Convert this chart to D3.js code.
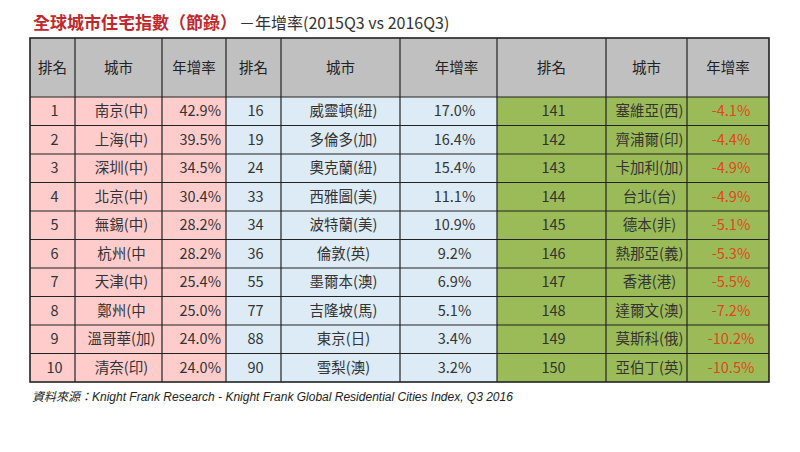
<!DOCTYPE html>
<html><head><meta charset="utf-8">
<script src="https://cdn.jsdelivr.net/npm/d3@7"></script>
<style>
html,body{margin:0;padding:0;background:#fff;}
svg{display:block;}
</style></head>
<body>
<svg id="chart" width="800" height="452"></svg>
<script>
// ---- data ----
const headers = ["排名","城市","年增率","排名","城市","年增率","排名","城市","年增率"];
const topRanks = [1,2,3,4,5,6,7,8,9,10];
const topCities = ["南京(中)","上海(中)","深圳(中)","北京(中)","無錫(中)","杭州(中","天津(中)","鄭州(中","溫哥華(加)","清奈(印)"];
const topRates = [42.9,39.5,34.5,30.4,28.2,28.2,25.4,25.0,24.0,24.0];
const midRanks = [16,19,24,33,34,36,55,77,88,90];
const midCities = ["威靈頓(紐)","多倫多(加)","奧克蘭(紐)","西雅圖(美)","波特蘭(美)","倫敦(英)","墨爾本(澳)","吉隆坡(馬)","東京(日)","雪梨(澳)"];
const midRates = [17.0,16.4,15.4,11.1,10.9,9.2,6.9,5.1,3.4,3.2];
const lowRanks = [141,142,143,144,145,146,147,148,149,150];
const lowCities = ["塞維亞(西)","齊浦爾(印)","卡加利(加)","台北(台)","德本(非)","熱那亞(義)","香港(港)","達爾文(澳)","莫斯科(俄)","亞伯丁(英)"];
const lowRates = [-4.1,-4.4,-4.9,-4.9,-5.1,-5.3,-5.5,-7.2,-10.2,-10.5];
const titleMain = "全球城市住宅指數（節錄）";
const titleSub = "－年增率(2015Q3 vs 2016Q3)";
const sourceText = "資料來源：Knight Frank Research - Knight Frank Global Residential Cities Index, Q3 2016";

// ---- layout ----
const svg = d3.select("#chart");
const colEdges = [30,75,162,226,281,400,497,606,687,769];
const headerTop = 38, headerBottom = 97, tableBottom = 382;
const groupFill = ["#ffcccc","#ddebf7","#9bbb59"];
const fontCJK = "'Noto Sans CJK TC','Noto Sans',sans-serif";
const fs = 14.5;

const y = d3.scaleBand().domain(d3.range(10)).range([headerBottom, tableBottom]).paddingInner(0);
const fmt = d3.formatLocale({decimal:".",thousands:",",grouping:[3],currency:["",""],minus:"-"}).format(".1f");

const groups = [
  {ranks: topRanks, cities: topCities, rates: topRates},
  {ranks: midRanks, cities: midCities, rates: midRates},
  {ranks: lowRanks, cities: lowCities, rates: lowRates}
];

// header
svg.append("rect").attr("x",colEdges[0]).attr("y",headerTop)
  .attr("width",colEdges[9]-colEdges[0]).attr("height",headerBottom-headerTop).attr("fill","#c0c0c0");
svg.selectAll("text.hdr").data(headers).join("text").attr("class","hdr")
  .attr("x",(d,i)=>(colEdges[i]+colEdges[i+1])/2 + (i===5?8:0))
  .attr("y",(headerTop+headerBottom)/2)
  .attr("dy","0.36em").attr("text-anchor","middle")
  .attr("font-family",fontCJK).attr("font-size",fs).attr("fill","#222").text(d=>d);

// body cells
groups.forEach((g,gi)=>{
  const x0 = colEdges[gi*3], x3 = colEdges[gi*3+3];
  svg.append("rect").attr("x",x0).attr("y",headerBottom).attr("width",x3-x0)
    .attr("height",tableBottom-headerBottom).attr("fill",groupFill[gi]);
  const rows = d3.range(10).map(i=>({rank:g.ranks[i],city:g.cities[i],rate:g.rates[i],i}));
  const rx = (colEdges[gi*3]+colEdges[gi*3+1])/2 + 2;
  const cx = (colEdges[gi*3+1]+colEdges[gi*3+2])/2 + 3;
  const tx0 = colEdges[gi*3+2], tx1 = colEdges[gi*3+3];
  svg.selectAll("text.rank"+gi).data(rows).join("text").attr("class","rank"+gi)
    .attr("x",rx).attr("y",d=>y(d.i)+y.bandwidth()/2).attr("dy","0.36em")
    .attr("text-anchor","middle").attr("font-family",fontCJK).attr("font-size",fs)
    .attr("fill","#333").text(d=>d.rank);
  svg.selectAll("text.city"+gi).data(rows).join("text").attr("class","city"+gi)
    .attr("x",cx).attr("y",d=>y(d.i)+y.bandwidth()/2).attr("dy","0.36em")
    .attr("text-anchor","middle").attr("font-family",fontCJK).attr("font-size",fs)
    .attr("fill","#333").text(d=>d.city);
  svg.selectAll("text.rate"+gi).data(rows).join("text").attr("class","rate"+gi)
    .attr("x", gi===0 ? tx1-5 : (gi===1 ? (tx0+tx1)/2+6 : (tx0+tx1)/2+3))
    .attr("y",d=>y(d.i)+y.bandwidth()/2).attr("dy","0.36em")
    .attr("text-anchor", gi===0 ? "end" : "middle")
    .attr("font-family",fontCJK).attr("font-size",fs)
    .attr("fill", gi===2 ? "#e2451c" : "#333")
    .text(d=>fmt(d.rate)+"%");
});

// grid lines
const rowLines = [headerBottom].concat(d3.range(1,10).map(i=>y(i)));
svg.selectAll("line.h").data(rowLines).join("line").attr("class","h")
  .attr("x1",colEdges[0]).attr("x2",colEdges[9]).attr("y1",d=>d).attr("y2",d=>d)
  .attr("stroke","#222").attr("stroke-width",1.2);
svg.selectAll("line.v").data(colEdges.slice(1,9)).join("line").attr("class","v")
  .attr("x1",d=>d).attr("x2",d=>d).attr("y1",headerTop).attr("y2",tableBottom)
  .attr("stroke","#222").attr("stroke-width",1.2);
svg.append("rect").attr("x",colEdges[0]).attr("y",headerTop)
  .attr("width",colEdges[9]-colEdges[0]).attr("height",tableBottom-headerTop)
  .attr("fill","none").attr("stroke","#222").attr("stroke-width",1.6);

// title
const title = svg.append("text").attr("x",33).attr("y",29).attr("font-family",fontCJK);
title.append("tspan").attr("font-size",17).attr("font-weight","bold").attr("fill","#c0282d").text(titleMain);
title.append("tspan").attr("font-size",16).attr("fill","#333").attr("dx",2).text(titleSub);

// source
svg.append("text").attr("x",32).attr("y",401)
  .attr("font-family","'Liberation Sans',Arial,'Noto Sans CJK TC',sans-serif")
  .attr("font-style","italic").attr("font-size",12).attr("fill","#222").text(sourceText);
</script>
</body></html>
